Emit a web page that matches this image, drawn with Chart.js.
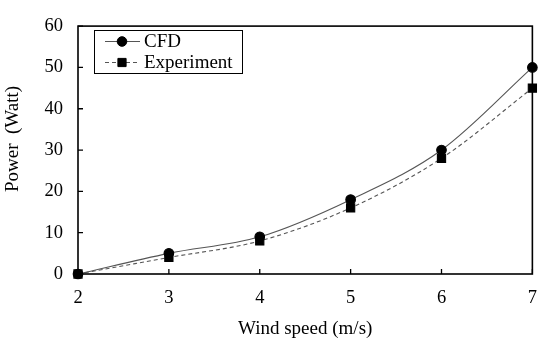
<!DOCTYPE html>
<html>
<head>
<meta charset="utf-8">
<script src="https://cdn.jsdelivr.net/npm/chart.js@4/dist/chart.umd.min.js"></script>
<style>
html,body{margin:0;padding:0;background:#fff;}
#wrap{width:550px;height:343px;position:relative;}
</style>
</head>
<body>
<div id="wrap"><canvas id="c" width="550" height="343"></canvas></div>
<script>
const windSpeed = [2, 3, 4, 5, 6, 7];
const cfdPower = [0, 5, 9, 18, 30, 50];
const expPower = [0, 4, 8, 16, 28, 45];
const xTicks = [2, 3, 4, 5, 6, 7];
const yTicks = [0, 10, 20, 30, 40, 50, 60];
const seriesNames = ['CFD', 'Experiment'];
const yTitle = 'Power  (Watt)';

const FONT = 'Liberation Serif, Times New Roman, serif';

const frame = {
  id: 'frame',
  afterDatasetsDraw(chart) {
    const {ctx, chartArea: a, scales} = chart;
    ctx.save();
    ctx.strokeStyle = '#000';
    ctx.lineWidth = 1.6;
    ctx.strokeRect(a.left, a.top, a.right - a.left, a.bottom - a.top);
    ctx.lineWidth = 1.3;
    ctx.beginPath();
    scales.x.ticks.forEach(t => {
      const px = scales.x.getPixelForValue(t.value);
      ctx.moveTo(px, a.bottom);
      ctx.lineTo(px, a.bottom - 5);
    });
    scales.y.ticks.forEach(t => {
      const py = scales.y.getPixelForValue(t.value);
      ctx.moveTo(a.left, py);
      ctx.lineTo(a.left + 5, py);
    });
    ctx.stroke();

    // y title
    ctx.save();
    ctx.translate(13, 139);
    ctx.rotate(-Math.PI / 2);
    ctx.font = '19px ' + FONT;
    ctx.fillStyle = '#000';
    ctx.textAlign = 'center';
    ctx.textBaseline = 'middle';
    ctx.fillText(yTitle, 0, 0);
    ctx.restore();

    // legend
    const lx = 94, ly = 30, lw = 148, lh = 43;
    ctx.fillStyle = '#fff';
    ctx.fillRect(lx, ly, lw, lh);
    ctx.lineWidth = 1;
    ctx.strokeStyle = '#000';
    ctx.strokeRect(lx + 0.5, ly + 0.5, lw, lh);
    const rows = [41.5, 62.5];
    chart.data.datasets.forEach((ds, i) => {
      const y = rows[i];
      ctx.save();
      ctx.strokeStyle = ds.borderColor;
      ctx.lineWidth = ds.borderWidth;
      ctx.setLineDash(ds.borderDash || []);
      ctx.beginPath();
      ctx.moveTo(105, y);
      ctx.lineTo(140, y);
      ctx.stroke();
      ctx.restore();
      ctx.save();
      ctx.fillStyle = '#000';
      ctx.strokeStyle = '#000';
      ctx.lineWidth = 1;
      Chart.helpers.drawPoint(ctx, {pointStyle: ds.pointStyle, radius: ds.pointRadius, borderWidth: 1}, 122, y);
      ctx.restore();
      ctx.font = '19px ' + FONT;
      ctx.textBaseline = 'middle';
      ctx.textAlign = 'left';
      ctx.fillStyle = '#000';
      ctx.fillText(ds.label, 144, y + 1);
    });
    ctx.restore();
  }
};

new Chart(document.getElementById('c'), {
  type: 'line',
  data: {
    datasets: [
      {
        label: seriesNames[0],
        data: windSpeed.map((x, i) => ({x, y: cfdPower[i]})),
        borderColor: '#555',
        borderWidth: 1.1,
        pointStyle: 'circle',
        pointRadius: 4.8,
        pointBackgroundColor: '#000',
        pointBorderColor: '#000',
        cubicInterpolationMode: 'monotone',
        clip: false
      },
      {
        label: seriesNames[1],
        data: windSpeed.map((x, i) => ({x, y: expPower[i]})),
        borderColor: '#555',
        borderWidth: 1.1,
        borderDash: [4, 3],
        pointStyle: 'rect',
        pointRadius: 5.8,
        pointBackgroundColor: '#000',
        pointBorderColor: '#000',
        cubicInterpolationMode: 'monotone',
        clip: false
      }
    ]
  },
  options: {
    responsive: false,
    animation: false,
    layout: {padding: {left: 0, right: 13, top: 14, bottom: 0}},
    plugins: {legend: {display: false}, tooltip: {enabled: false}},
    scales: {
      x: {
        type: 'linear',
        min: 2, max: 7,
        afterBuildTicks: s => { s.ticks = xTicks.map(v => ({value: v})); },
        afterFit: s => { s.height = 69; },
        grid: {display: false, drawTicks: false},
        border: {display: false},
        ticks: {color: '#000', font: {family: FONT, size: 18.5}, padding: 13},
        title: {display: true, text: 'Wind speed (m/s)', color: '#000', font: {family: FONT, size: 19}, padding: {top: 4, bottom: 3}}
      },
      y: {
        min: 0, max: 60,
        afterBuildTicks: s => { s.ticks = yTicks.map(v => ({value: v})); },
        afterFit: s => { s.width = 78; },
        grid: {display: false, drawTicks: false},
        border: {display: false},
        ticks: {color: '#000', font: {family: FONT, size: 18.5}, padding: 15}
      }
    }
  },
  plugins: [frame]
});
</script>
</body>
</html>
